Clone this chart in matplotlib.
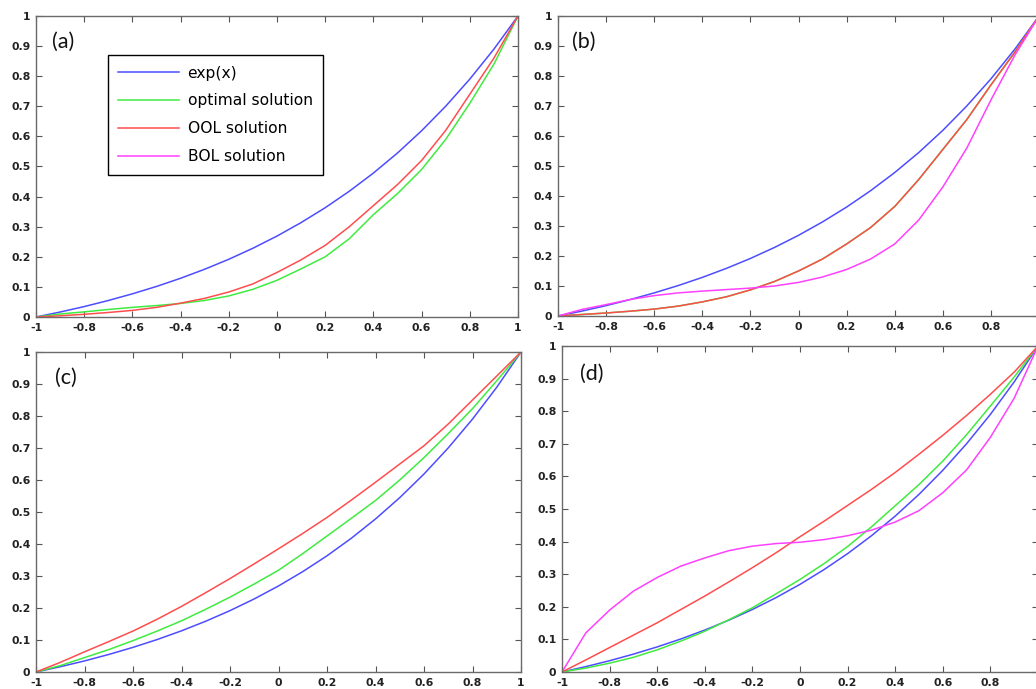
import matplotlib
matplotlib.use("Agg")
import matplotlib.pyplot as plt

plt.rcParams['axes.unicode_minus'] = False
plt.rcParams['font.family'] = ['DejaVu Sans']

x = [-1.0, -0.9, -0.8, -0.7, -0.6, -0.5, -0.4, -0.3, -0.2, -0.1, 0.0,
     0.1, 0.2, 0.3, 0.4, 0.5, 0.6, 0.7, 0.8, 0.9, 1.0]

exp_x = [0.0, 0.0165, 0.0346, 0.0548, 0.077, 0.1015, 0.1287, 0.1587, 0.1918, 0.2284, 0.2689,
         0.3137, 0.3631, 0.4178, 0.4782, 0.5449, 0.6187, 0.7003, 0.7903, 0.8899, 1.0]

# panel (a)
a_optimal = [0.0, 0.01, 0.017, 0.025, 0.032, 0.038, 0.045, 0.055, 0.07, 0.092, 0.122,
             0.16, 0.2, 0.26, 0.34, 0.41, 0.49, 0.59, 0.71, 0.84, 1.0]
a_ool = [0.0, 0.004, 0.009, 0.015, 0.022, 0.032, 0.046, 0.062, 0.083, 0.11, 0.148,
         0.19, 0.238, 0.3, 0.37, 0.44, 0.52, 0.62, 0.74, 0.86, 1.0]

# panel (b)
b_optimal = [0.0, 0.005, 0.01, 0.016, 0.023, 0.033, 0.047, 0.064, 0.087, 0.115, 0.15,
             0.19, 0.24, 0.295, 0.365, 0.455, 0.555, 0.655, 0.77, 0.88, 1.0]
b_ool = [0.0, 0.005, 0.01, 0.016, 0.023, 0.033, 0.047, 0.064, 0.087, 0.115, 0.15,
         0.19, 0.24, 0.295, 0.365, 0.455, 0.555, 0.655, 0.77, 0.88, 1.0]
b_bol = [0.0, 0.022, 0.038, 0.055, 0.068, 0.077, 0.083, 0.088, 0.093, 0.1, 0.112,
         0.13, 0.155, 0.19, 0.24, 0.32, 0.43, 0.56, 0.72, 0.87, 1.0]

# panel (c)
c_optimal = [0.0, 0.02, 0.045, 0.07, 0.098, 0.128, 0.16, 0.196, 0.234, 0.275, 0.318,
             0.37, 0.425, 0.48, 0.536, 0.6, 0.67, 0.745, 0.823, 0.91, 1.0]
c_ool = [0.0, 0.03, 0.063, 0.095, 0.128, 0.165, 0.205, 0.248, 0.292, 0.338, 0.385,
         0.433, 0.483, 0.537, 0.593, 0.65, 0.707, 0.775, 0.85, 0.925, 1.0]

# panel (d)
d_optimal = [0.0, 0.012, 0.027, 0.045, 0.068, 0.095, 0.125, 0.16, 0.197, 0.24, 0.284,
             0.332, 0.385, 0.445, 0.51, 0.575, 0.647, 0.728, 0.816, 0.905, 1.0]
d_ool = [0.0, 0.037, 0.075, 0.113, 0.151, 0.192, 0.233, 0.276, 0.32, 0.366, 0.415,
         0.462, 0.511, 0.56, 0.612, 0.668, 0.726, 0.787, 0.852, 0.92, 1.0]
d_bol = [0.0, 0.12, 0.19, 0.248, 0.29, 0.325, 0.35, 0.372, 0.386, 0.394, 0.398,
         0.406, 0.418, 0.435, 0.46, 0.495, 0.55, 0.62, 0.72, 0.84, 1.0]

legend_labels = ["exp(x)", "optimal solution", "OOL solution", "BOL solution"]
panel_labels = ["(a)", "(b)", "(c)", "(d)"]
xticks = [-1, -0.8, -0.6, -0.4, -0.2, 0, 0.2, 0.4, 0.6, 0.8, 1]
xticklabels = ["-1", "-0.8", "-0.6", "-0.4", "-0.2", "0", "0.2", "0.4", "0.6", "0.8", "1"]
# right-hand panels: the "1" label falls outside the picture
xticklabels_right = ["-1", "-0.8", "-0.6", "-0.4", "-0.2", "0", "0.2", "0.4", "0.6", "0.8", ""]
yticks = [0, 0.1, 0.2, 0.3, 0.4, 0.5, 0.6, 0.7, 0.8, 0.9, 1]
yticklabels = ["0", "0.1", "0.2", "0.3", "0.4", "0.5", "0.6", "0.7", "0.8", "0.9", "1"]

C_BLUE = (0.3, 0.3, 1.0)
C_GREEN = (0.25, 0.92, 0.25)
C_RED = (1.0, 0.3, 0.3)
C_MAG = (1.0, 0.25, 1.0)
LW = 1.1

fig = plt.figure(figsize=(10.36, 6.89), dpi=100)

positions = [
    [36/1036, (689-317)/689, 482/1036, 301/689],
    [558/1036, (689-316)/689, 481/1036, 300/689],
    [36/1036, (689-672)/689, 485/1036, 320/689],
    [562/1036, (689-672)/689, 476/1036, 326/689],
]
label_pos = [(0.033, 0.914), (0.029, 0.913), (0.039, 0.919), (0.038, 0.914)]

panels = [
    [(exp_x, C_BLUE), (a_optimal, C_GREEN), (a_ool, C_RED)],
    [(exp_x, C_BLUE), (b_optimal, C_GREEN), (b_ool, C_RED), (b_bol, C_MAG)],
    [(exp_x, C_BLUE), (c_optimal, C_GREEN), (c_ool, C_RED)],
    [(exp_x, C_BLUE), (d_optimal, C_GREEN), (d_ool, C_RED), (d_bol, C_MAG)],
]

axes = []
for i, pos in enumerate(positions):
    ax = fig.add_axes(pos)
    axes.append(ax)
    for ys, col in panels[i]:
        ax.plot(x, ys, color=col, lw=LW, solid_capstyle='round', solid_joinstyle='round')
    ax.set_xlim(-1, 1)
    ax.set_ylim(0, 1)
    ax.set_xticks(xticks)
    ax.set_xticklabels(xticklabels if i in (0, 2) else xticklabels_right)
    ax.set_yticks(yticks)
    ax.set_yticklabels(yticklabels)
    ax.tick_params(direction='in', length=4, width=0.8, color='#555555',
                   top=True, right=True, labelsize=7.8, labelcolor='#222222', pad=4)
    for lab in ax.get_xticklabels() + ax.get_yticklabels():
        lab.set_fontweight('bold')
    for sp in ax.spines.values():
        sp.set_color('#6a6a6a')
        sp.set_linewidth(1.0)
    ax.text(label_pos[i][0], label_pos[i][1], panel_labels[i], transform=ax.transAxes,
            ha='left', va='center', fontsize=15.5, family=['Lato', 'Open Sans', 'DejaVu Sans'],
            color='#111111')

# legend in panel (a), including the BOL entry
ax = axes[0]
handles = [plt.Line2D([], [], color=c, lw=LW) for c in (C_BLUE, C_GREEN, C_RED, C_MAG)]
leg = ax.legend(handles, legend_labels, loc='upper left', bbox_to_anchor=(0.149, 0.87),
                fontsize=11.2, frameon=True, fancybox=False, framealpha=1.0,
                edgecolor='black', handlelength=3.9, handletextpad=0.55,
                labelspacing=0.82, borderpad=0.68, borderaxespad=0.0)
leg.get_frame().set_linewidth(1.0)

fig.savefig("out.png", dpi=100)
